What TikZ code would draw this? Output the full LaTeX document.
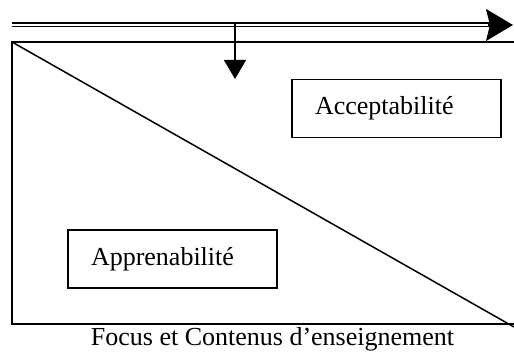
\documentclass[tikz,border=0pt]{standalone}
\usepackage{fontspec}
\setmainfont{Liberation Serif}
\usepackage{tikz}
\usetikzlibrary{
    arrows.meta,
    positioning
}
\tikzset{
    % Base style for all texts
    plain base/.style={
        font=\fontsize{26}{31}\selectfont,
        text=black,
    },
    % Framed label boxes - text set to the left
    label box/.style={
        plain base,
        rectangle,
        draw=black,
        line width=1.5pt,
        minimum width=209pt,
        minimum height=58pt,
        text width=163pt,
        inner xsep=23pt,
        align=left,
    },
    % Caption under the frame
    caption text/.style={
        plain base,
        inner sep=0pt,
        anchor=base,
    },
    % Frame and diagonal lines
    frame line/.style={
        line width=1.5pt,
        draw=black,
    },
    % Double time line
    time line/.style={
        line width=1.4pt,
        double distance=2.2pt,
    },
    % Big arrow head at the end of the time line
    big head/.style={
        -{Stealth[length=27pt, width=32pt, inset=4pt]},
        line width=1.2pt,
    },
    % Falling arrow
    drop arrow/.style={
        -{Triangle[length=19pt, width=22pt]},
        line width=1.5pt,
    },
}

\begin{document}
\begin{tikzpicture}[x=1pt, y=-1pt]
    \useasboundingbox (0,0) rectangle (514,352);

    % time line
    \coordinate (line start) at (12,25);
    \coordinate (line end) at (490,25);
    \coordinate (head back) at (488,25);
    \coordinate (head tip) at (513,25);
    \draw [time line] (line start) -- (line end);
    \draw [big head] (head back) -- (head tip);

    % frame
    \coordinate (frame tl) at (12,42);
    \coordinate (frame tr) at (514,42);
    \coordinate (frame bl) at (12,324);
    \coordinate (frame br) at (514,324);
    \coordinate (diag end) at (514,327);
    \draw [frame line] (frame tr) -- (frame tl) -- (frame bl) -- (frame br);
    \draw [frame line] (frame tl) -- (diag end);

    % falling arrow
    \coordinate (drop top) at (235,23);
    \coordinate (drop tip) at (235,79);
    \draw [drop arrow] (drop top) -- (drop tip);

    \node (accept) [label box] at (396.5,108.5) {Acceptabilité};
    \node (learn) [label box] at (172.5,259) {Apprenabilité};
    \node (focus) [caption text] at (272.5,346) {Focus et Contenus d’enseignement};
\end{tikzpicture}
\end{document}
